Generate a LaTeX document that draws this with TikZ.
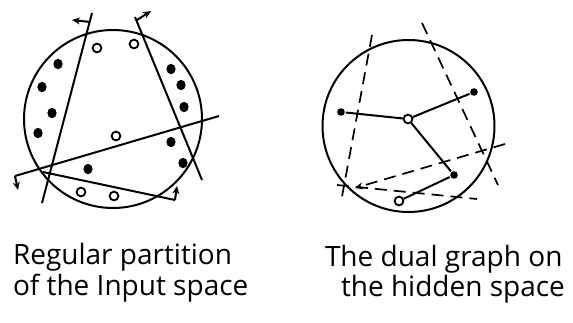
\documentclass[tikz,border=0pt]{standalone}
\usepackage{fontspec}
\setmainfont{Open Sans}
\usetikzlibrary{arrows.meta,shapes.geometric}
\begin{document}
\begin{tikzpicture}[x=0.5pt,y=-0.5pt, line width=1pt,
  fdot/.style={ellipse, fill=black, inner sep=0pt, minimum width=4.6pt, minimum height=5.2pt},
  odot/.style={circle, draw=black, fill=white, line width=0.9pt, inner sep=0pt, minimum size=4.4pt},
  gfdot/.style={circle, fill=black, inner sep=0pt, minimum size=3.8pt},
  godot/.style={circle, draw=black, fill=white, line width=0.9pt, inner sep=0pt, minimum size=4.4pt},
  stub/.style={line width=1pt, -{Stealth[length=4pt,width=3.5pt]}},
  dline/.style={dashed, dash pattern=on 6pt off 3.5pt, line width=0.85pt},
  lbl/.style={font=\fontsize{14}{16}\selectfont, anchor=base west, inner sep=0pt}]
\useasboundingbox (0,0) rectangle (573,322);
% ---------- left diagram ----------
\draw (113,119) circle [radius=89];
\coordinate (l1a) at (92,13); \coordinate (l1b) at (42,203);
\coordinate (l2a) at (135,17); \coordinate (l2b) at (202,180);
\coordinate (l3a) at (15,176); \coordinate (l3b) at (219,116);
\coordinate (l4a) at (43,172); \coordinate (l4b) at (175,200);
\draw (l1a) -- (l1b);
\draw (l2a) -- (l2b);
\draw (l3a) -- (l3b);
\draw (l4a) -- (l4b);
\coordinate (s1) at (90,22); \coordinate (t1) at (72,20);
\coordinate (s2) at (137,20); \coordinate (t2) at (151,11);
\coordinate (t3) at (18,190);
\coordinate (t4) at (177,186);
\draw[stub] (s1) -- (t1);
\draw[stub] (s2) -- (t2);
\draw[stub] (l3a) -- (t3);
\draw[stub] (l4b) -- (t4);
% filled points
\foreach \p/\q in {58/64, 42/87, 52/113, 38/133, 88/169, 171/69, 181/85, 184/107, 171/142, 183/163}
  \node[fdot] at (\p,\q) {};
% open points
\foreach \p/\q in {97/48, 134/44, 116/136, 81/192, 114/196}
  \node[odot] at (\p,\q) {};
% ---------- right diagram ----------
\draw (408.5,126) circle [radius=86];
\coordinate (d1a) at (372,35); \coordinate (d1b) at (341,202);
\coordinate (d2a) at (422,23); \coordinate (d2b) at (498,185);
\coordinate (d3a) at (505,144); \coordinate (d3b) at (355,188);
\coordinate (d4a) at (337,185); \coordinate (d4b) at (477,199);
\draw[dline] (d1a) -- (d1b);
\draw[dline] (d2a) -- (d2b);
\draw[dline, -{Stealth[length=4pt,width=3.5pt]}] (d3a) -- (d3b);
\draw[dline] (d4a) -- (d4b);
\node[gfdot] (g1) at (341,112) {};
\node[godot] (g0) at (408,119) {};
\node[gfdot] (g2) at (474,92) {};
\node[gfdot] (g3) at (454,175) {};
\node[godot] (g4) at (399,201) {};
\draw (g1) -- (g0);
\draw (g0) -- (g2);
\draw (g0) -- (g3);
\draw (g3) -- (g4);
% ---------- labels ----------
\node[lbl] (t1l) at (12,264) {Regular partition};
\node[lbl] (t2l) at (12,295) {of the Input space};
\node[lbl] (t3l) at (324,266) {The dual graph on};
\node[lbl] (t4l) at (340,296) {the hidden space};
\end{tikzpicture}
\end{document}
